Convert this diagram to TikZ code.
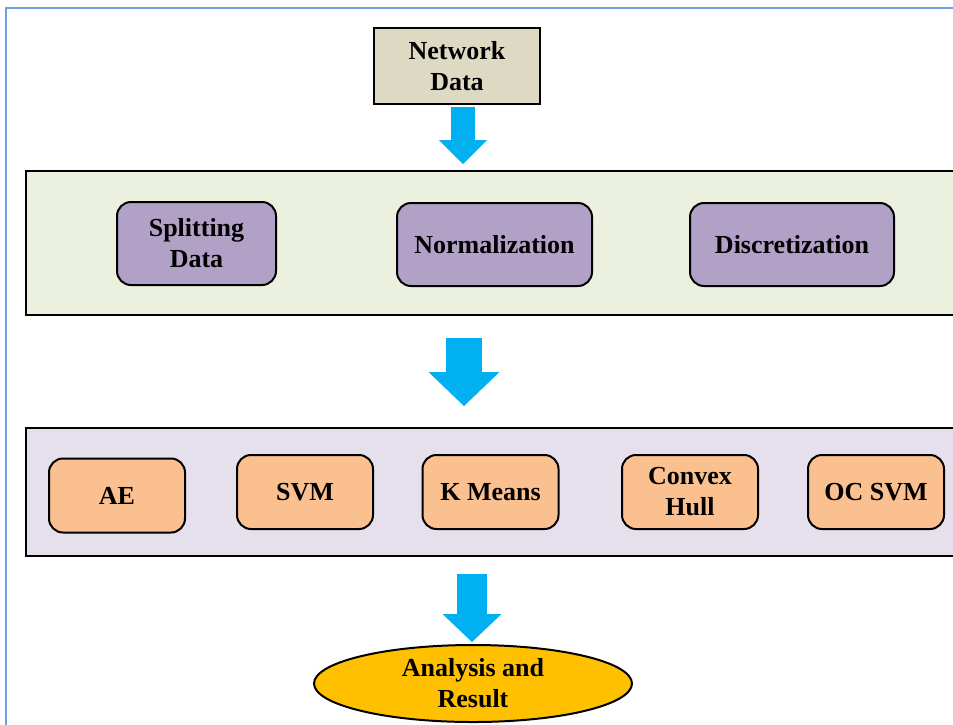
\documentclass[tikz,border=0pt]{standalone}
\usepackage{fontspec}
\setmainfont{Liberation Serif}
\usetikzlibrary{shapes.geometric,arrows.meta}
\definecolor{framebl}{RGB}{114,159,227}
\definecolor{datatan}{HTML}{DDD9C3}
\definecolor{prepgreen}{HTML}{EBF1DE}
\definecolor{preppurple}{HTML}{B2A1C7}
\definecolor{modellav}{HTML}{E5E0EC}
\definecolor{modelorange}{HTML}{FAC090}
\definecolor{flowblue}{HTML}{00B0F0}
\definecolor{resultgold}{HTML}{FFC000}
\begin{document}
\begin{tikzpicture}[x=1pt,y=-1pt,
    every node/.style={font=\fontsize{26}{31}\selectfont\bfseries,align=center,inner sep=0pt},
    box/.style={draw=black,line width=2pt},
    stagebox/.style={box,rectangle,minimum width=974pt},
    stepbox/.style={box,rounded corners=14pt,fill=preppurple,minimum height=83pt},
    algbox/.style={box,rounded corners=14pt,fill=modelorange,minimum width=136pt,minimum height=74pt},
    flow/.style n args={3}{flowblue,line width=#1,-{Triangle[length=#3,width=#2,line width=0pt]}}]
    \useasboundingbox (0,0) rectangle (953,724);
    \clip (0,0) rectangle (953,724);
    \fill[white] (0,0) rectangle (953,724);
    \draw[framebl,line width=2pt] (6,730) -- (6,8) -- (960,8);

    \node[box,fill=datatan,minimum width=166pt,minimum height=76pt] (nd) at (457,66) {Network\\Data};

    % preprocessing
    \node[stagebox,fill=prepgreen,minimum height=144pt] (prep) at (513,243) {};
    \node[stepbox,minimum width=159pt] (split) at (196.5,243.5) {Splitting\\Data};
    \node[stepbox,minimum width=195pt] (norm) at (494.5,244.5) {Normalization};
    \node[stepbox,minimum width=204pt] (disc) at (792,244.5) {Discretization};

    % models
    \node[stagebox,fill=modellav,minimum height=128pt] (models) at (513,492) {};
    \foreach \i/\x/\y/\txt in {1/117/495.5/AE, 2/305/492/SVM, 3/490.5/492/K Means,
                               4/690/492/{Convex\\Hull}, 5/876/492/OC SVM}
    \node[algbox] (alg\i) at (\x,\y) {\txt};

    \node[ellipse,box,fill=resultgold,minimum width=318pt,minimum height=77pt] (res) at (473,683.5) {Analysis and\\Result};

    % block arrows
    \coordinate (a1) at (463,107);
    \coordinate (a1e) at (463,164);
    \coordinate (a2) at (464,338);
    \coordinate (a2e) at (464,406);
    \coordinate (a3) at (472,574);
    \coordinate (a3e) at (472,642);
    \draw[flow={24pt}{48pt}{24pt}] (a1) -- (a1e);
    \draw[flow={36pt}{71pt}{34pt}] (a2) -- (a2e);
    \draw[flow={30pt}{59pt}{28pt}] (a3) -- (a3e);
\end{tikzpicture}
\end{document}
